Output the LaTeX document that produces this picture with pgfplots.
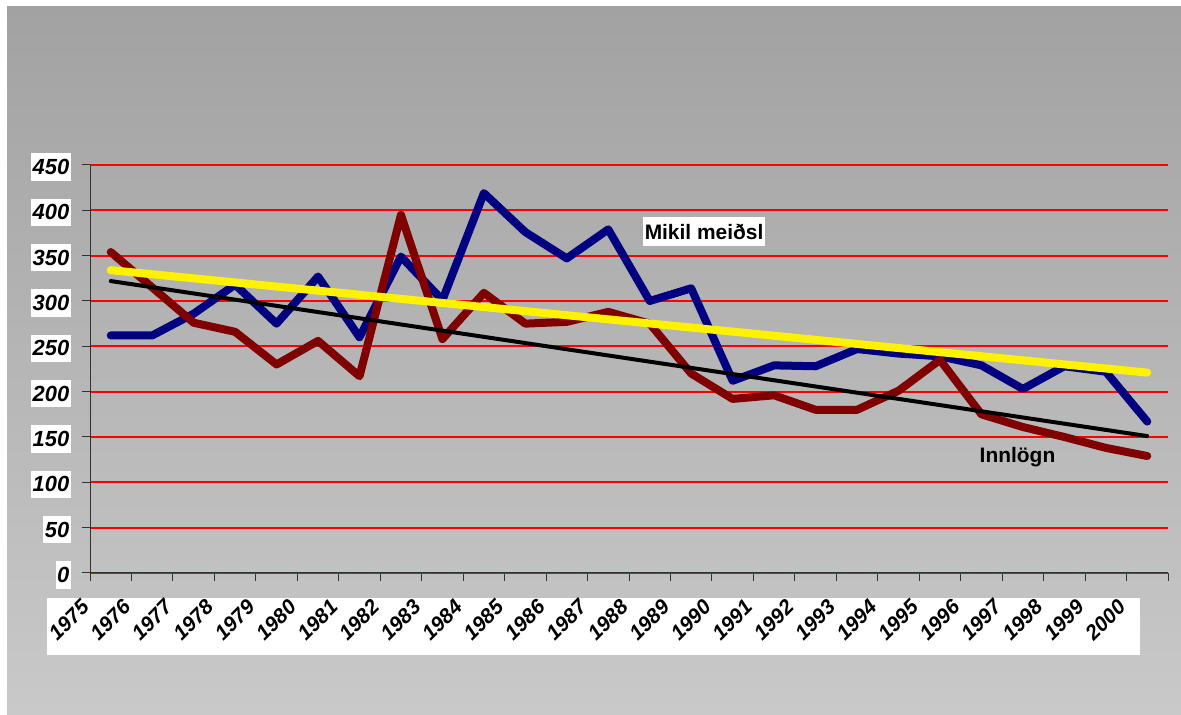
\documentclass[border=0pt]{standalone}
\usepackage{fontspec}
\setmainfont{Liberation Sans}
\usepackage{pgfplots}
\pgfplotsset{compat=1.18}
\definecolor{bgtop}{RGB}{162,162,162}
\definecolor{bgbot}{RGB}{201,201,201}
\definecolor{navyline}{RGB}{0,0,128}
\definecolor{maroonline}{RGB}{128,0,0}
\definecolor{axisgray}{RGB}{50,50,50}
\pgfplotstableread{
x meidsl innlogn
0 262 354
1 262 315
2 286 276
3 318 266
4 275 230
5 327 256
6 260 217
7 349 395
8 301 258
9 419 309
10 376 275
11 347 277
12 379 288
13 300 275
14 314 220
15 212 192
16 229 196
17 228 180
18 247 180
19 242 201
20 239 235
21 229 175
22 203 161
23 228 150
24 222 138
25 167 129
}\datatable
\begin{document}
\begin{tikzpicture}
\useasboundingbox (0bp,0bp) rectangle (1181bp,715bp);
\fill[white] (0bp,0bp) rectangle (1181bp,715bp);
\shade[top color=bgtop, bottom color=bgbot] (7bp,0bp) rectangle (1181bp,708bp);
\fill[white] (47bp,60bp) rectangle (1140bp,117bp);
\begin{axis}[
  at={(90bp,142bp)}, anchor=south west,
  scale only axis, width=1078bp, height=408bp,
  xmin=-0.5, xmax=25.5, ymin=0, ymax=450,
  axis x line*=bottom, axis y line*=left,
  axis line style={draw=axisgray, line width=1bp, -},
  tick align=outside,
  major tick length=8bp,
  tick style={draw=axisgray, line width=1bp},
  xtick={-0.5,0.5,...,24.5},
  xticklabels={1975,1976,1977,1978,1979,1980,1981,1982,1983,1984,1985,1986,1987,1988,1989,1990,1991,1992,1993,1994,1995,1996,1997,1998,1999,2000},
  extra x ticks={25.5}, extra x tick labels={},
  ytick={0,50,...,450},
  ymajorgrids, grid style={red, line width=2bp},
  /pgf/number format/assume math mode=true,
  yticklabel style={font=\fontsize{22}{26}\selectfont\bfseries\itshape, fill=white, inner xsep=1.5bp, inner ysep=6bp, anchor=east, xshift=-11bp, yshift=-2bp},
  xticklabel style={font=\fontsize{21}{25}\selectfont\bfseries\itshape, xshift=-10bp, yshift=-17bp, rotate=45, anchor=north east, inner sep=0pt},
]
\addplot[navyline, line width=8bp, line cap=round, line join=round] table[x=x, y=meidsl] {\datatable};
\addplot[maroonline, line width=8bp, line cap=round, line join=round] table[x=x, y=innlogn] {\datatable};
\addplot[black, line width=4bp, line cap=round] coordinates {(0,322) (25,151)};
\addplot[yellow, line width=8bp, line cap=round] coordinates {(0,334) (25,221)};
\node[fill=white, inner xsep=2bp, inner ysep=6.5bp, font=\fontsize{21}{25}\selectfont\bfseries] at (axis cs:14.31,376.6) {Mikil meiðsl};
\node[anchor=base, inner sep=0pt, font=\fontsize{21}{25}\selectfont\bfseries] at (axis cs:21.87,122.4) {Innlögn};
\end{axis}
\end{tikzpicture}
\end{document}
